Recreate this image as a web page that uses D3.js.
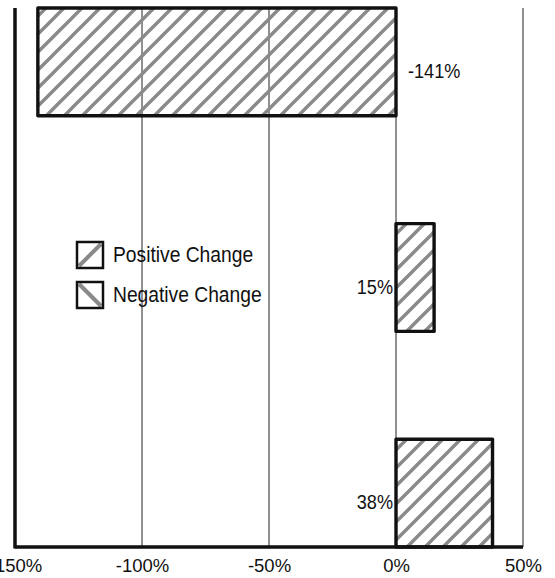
<!DOCTYPE html>
<html>
<head>
<meta charset="utf-8">
<script src="https://cdn.jsdelivr.net/npm/d3@7/dist/d3.min.js"></script>
<style>
  html, body { margin: 0; padding: 0; background: #fff; }
  svg { display: block; font-family: "Liberation Sans", Arial, sans-serif; }
</style>
</head>
<body>
<svg id="chart" width="555" height="578"></svg>
<script>
// Percentage change per group, top to bottom
const groups = ["A", "B", "C"];
const changes = [-141, 15, 38];
const xTicks = [-150, -100, -50, 0, 50];
const legendLabels = ["Positive Change", "Negative Change"];

const svg = d3.select("#chart");
const plot = { left: 15, right: 523, top: 8, bottom: 547 };

const x = d3.scaleLinear().domain([-150, 50]).range([plot.left, plot.right]);
const y = d3.scaleBand().domain(groups).range([plot.top, plot.bottom])
  .paddingInner(0.5).paddingOuter(0);

// hatch patterns
const defs = svg.append("defs");
function hatch(id, dir) {
  const s = 18;
  const p = defs.append("pattern").attr("id", id)
    .attr("patternUnits", "userSpaceOnUse").attr("width", s).attr("height", s);
  const d = dir > 0
    ? `M0,${s} L${s},0 M${-s/2},${s/2} L${s/2},${-s/2} M${s/2},${s*1.5} L${s*1.5},${s/2}`
    : `M0,0 L${s},${s} M${-s/2},${s/2} L${s/2},${s*1.5} M${s/2},${-s/2} L${s*1.5},${s/2}`;
  p.append("path").attr("d", d).attr("stroke", "#8a8a8a").attr("stroke-width", 3.4);
}
hatch("hatchPos", 1);
hatch("hatchNeg", -1);

// vertical gridlines
svg.append("g").selectAll("line").data(xTicks.filter(t => t > -150)).join("line")
  .attr("x1", d => x(d)).attr("x2", d => x(d))
  .attr("y1", plot.top).attr("y2", plot.bottom)
  .attr("stroke", "#222").attr("stroke-width", 1);

// bars
svg.append("g").selectAll("rect").data(changes).join("rect")
  .attr("x", d => x(Math.min(0, d)))
  .attr("width", d => Math.abs(x(d) - x(0)))
  .attr("y", (d, i) => y(groups[i]))
  .attr("height", y.bandwidth())
  .attr("fill", "url(#hatchPos)")
  .attr("stroke", "#111").attr("stroke-width", 3.4)
  .attr("stroke-linejoin", "round");

// value labels
svg.append("g").selectAll("text").data(changes).join("text")
  .attr("transform", (d, i) => {
    const tx = d < 0 ? x(0) + 12 : x(0) - 3;
    const ty = y(groups[i]) + y.bandwidth() / 2 + 16;
    return `translate(${tx},${ty}) scale(0.93,1)`;
  })
  .attr("text-anchor", d => d < 0 ? "start" : "end")
  .attr("font-size", 19.5).attr("fill", "#111")
  .text(d => d + "%");

// axes lines
svg.append("line").attr("x1", plot.left).attr("x2", plot.left)
  .attr("y1", plot.top).attr("y2", plot.bottom + 1.5)
  .attr("stroke", "#111").attr("stroke-width", 3.5);
svg.append("line").attr("x1", plot.left).attr("x2", plot.right)
  .attr("y1", plot.bottom).attr("y2", plot.bottom)
  .attr("stroke", "#111").attr("stroke-width", 3.5);

// x tick labels
const xAxis = d3.axisBottom(x).tickValues(xTicks).tickSize(0).tickPadding(0)
  .tickFormat(d => d + "%");
const gx = svg.append("g").attr("transform", `translate(0,${plot.bottom})`).call(xAxis);
gx.select(".domain").remove();
gx.selectAll("text").attr("y", 25).attr("dy", 0)
  .attr("font-size", 18.5).attr("fill", "#111")
  .attr("font-family", "'Liberation Sans', Arial, sans-serif");

// legend
const legend = svg.append("g").attr("transform", "translate(77,242)");
const items = legend.selectAll("g").data(legendLabels).join("g")
  .attr("transform", (d, i) => `translate(0,${i * 40})`);
items.append("rect").attr("width", 26).attr("height", 26).attr("fill", "#fff");
items.append("line")
  .attr("x1", 2).attr("x2", 24)
  .attr("y1", (d, i) => i === 0 ? 24 : 2).attr("y2", (d, i) => i === 0 ? 2 : 24)
  .attr("stroke", "#8a8a8a").attr("stroke-width", 4);
items.append("rect").attr("width", 26).attr("height", 26)
  .attr("fill", "none").attr("stroke", "#111").attr("stroke-width", 2.5);
items.append("text").attr("transform", "translate(36,20) scale(0.875,1)")
  .attr("font-size", 22).attr("fill", "#111")
  .text(d => d);
</script>
</body>
</html>
